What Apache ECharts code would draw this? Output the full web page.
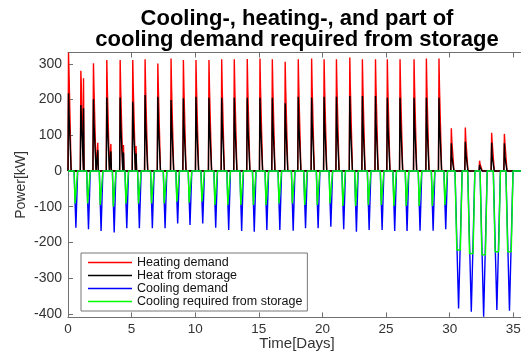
<!DOCTYPE html>
<html><head><meta charset="utf-8">
<script src="https://cdn.jsdelivr.net/npm/echarts@6/dist/echarts.min.js"></script>
<style>html,body{margin:0;padding:0;background:#fff}#c{width:521px;height:352px}</style>
</head><body><div id="c"></div>
<script>
// ---- data (time in days, power in kW) ----
const seriesNames = ['Heating demand', 'Heat from storage', 'Cooling demand', 'Cooling required from storage'];
const xTicks = [0, 5, 10, 15, 20, 25, 30, 35];
const yTicks = [-400, -300, -200, -100, 0, 100, 200, 300];

// daily heating peak (red) and heat from storage (black)
const heatT = [0.04, 1.01, 2.00, 3.05, 4.10, 5.09, 6.06, 7.06, 8.10, 9.07, 10.06, 11.08, 12.08, 13.07, 14.09, 15.09, 16.06, 17.07, 18.10, 19.15, 20.13, 21.10, 22.15, 23.14, 24.17, 25.10, 26.10, 27.20, 28.17, 29.16, 30.13, 31.23, 32.35, 33.30, 34.30];
const heatPeak = [331, 281, 302, 311, 311, 311, 313, 301, 315, 311, 311, 311, 313, 313, 314, 315, 313, 306, 313, 315, 313, 313, 318, 313, 313, 313, 313, 313, 315, 315, 120, 122, 29, 107, 104];
const heatShoulder = [273, 236, 232, 232, 232, 232, 232, 232, 232, 232, 232, 232, 232, 232, 232, 232, 232, 230, 232, 232, 232, 232, 235, 232, 232, 232, 232, 232, 232, 232, 85, 88, 20, 82, 80];
const storePeak = [218, 185, 201, 206, 206, 194, 213, 208, 199, 204, 208, 205, 205, 205, 205, 205, 205, 190, 208, 206, 208, 208, 210, 210, 210, 205, 205, 205, 205, 205, 78, 82, 17, 79, 78];
const storeShoulder = [160, 150, 134, 134, 134, 134, 134, 134, 134, 134, 134, 134, 134, 134, 134, 134, 134, 134, 134, 134, 134, 134, 134, 134, 134, 134, 134, 134, 134, 134, 40, 50, 10, 40, 40];
// secondary (smaller) heating spikes on days 1-5
const heat2Day = [1, 2, 3, 4, 5];
const heat2T = [1.22, 2.34, 3.37, 4.36, 5.35];
const heat2Peak = [260, 79, 76, 73, 70];
const store2Peak = [176, 59, 55, 52, 50];

// daily cooling trough (blue) and cooling required from storage (green)
const coolT = [0.62, 1.61, 2.60, 3.63, 4.62, 5.61, 6.63, 7.63, 8.62, 9.59, 10.59, 11.61, 12.63, 13.65, 14.64, 15.63, 16.65, 17.70, 18.67, 19.66, 20.66, 21.67, 22.67, 23.67, 24.69, 25.68, 26.65, 27.67, 28.70, 29.69, 30.70, 31.70, 32.67, 33.71, 34.70];
const coolPeak = [-159, -163, -168, -172, -160, -160, -160, -160, -147, -151, -147, -159, -165, -168, -170, -165, -165, -167, -160, -160, -156, -163, -170, -165, -165, -168, -168, -167, -167, -163, -385, -394, -408, -389, -391];
const coolStore = [-91, -91, -95, -100, -91, -91, -91, -91, -86, -89, -86, -95, -95, -95, -95, -95, -91, -91, -95, -95, -91, -98, -98, -95, -95, -98, -98, -98, -98, -95, -221, -231, -235, -226, -226];

// ---- build the line tables ----
const H = 1 / 24, XMAX = 36;
const red = [[0, 0]], black = [[0, 0]], blue = [[0, 0]], green = [[0, 0]];
for (let d = 0; d < heatT.length; d++) {
  const t = heatT[d];
  red.push([Math.max(0, t - H), 0], [t, heatPeak[d]], [t + H, heatShoulder[d]], [t + 4 * H, heatShoulder[d]], [t + 5 * H, 0]);
  black.push([Math.max(0, t - H), 0], [t, storePeak[d]], [t + H, storeShoulder[d]], [t + 4 * H, storeShoulder[d]], [t + 5 * H, 0]);
  const k = heat2Day.indexOf(d);
  if (k >= 0) {
    const s = heat2T[k];
    red.push([s - H, 0], [s, heat2Peak[k]], [s + H, 0]);
    black.push([s - H, 0], [s, store2Peak[k]], [s + H, 0]);
  }
}
for (let d = 0; d < coolT.length; d++) {
  const t = coolT[d], w = d >= 30 ? 0.28 : 0.14;
  blue.push([t - w, 0], [t, coolPeak[d]], [t + w, 0]);
  green.push([t - w, 0], [t - w / 2, coolStore[d]], [t + w / 2, coolStore[d]], [t + w, 0]);
}
[red, black, blue, green].forEach(a => a.push([XMAX, 0]));

const axisColor = '#707070';
const font = 'Liberation Sans, Arial, sans-serif';
const mk = (name, data, color) => ({
  name, type: 'line', data, symbol: 'none', showSymbol: false, animation: false,
  lineStyle: { color, width: 1.4 }, itemStyle: { color }, clip: true
});

const chart = echarts.init(document.getElementById('c'), null, { renderer: 'canvas' });
chart.setOption({
  animation: false,
  backgroundColor: '#fff',
  textStyle: { fontFamily: font },
  title: {
    text: 'Cooling-, heating-, and part of\ncooling demand required from storage',
    left: 297, top: 8, textAlign: 'center', padding: 0,
    textStyle: { fontSize: 22, fontWeight: 'bold', color: '#000', lineHeight: 21, fontFamily: font }
  },
  grid: { left: 68, right: -5, top: 52.5, bottom: 34.6, outerBoundsMode: 'none', containLabel: false },
  legend: {
    orient: 'vertical', left: 81, top: 253,
    padding: [3, 5, 3, 7], itemGap: 0, itemWidth: 44, itemHeight: 1.5, icon: 'rect',
    borderColor: '#777', borderWidth: 1, backgroundColor: '#fff', borderRadius: 0,
    textStyle: { fontSize: 12.5, color: '#111', lineHeight: 12, fontFamily: font },
    data: seriesNames
  },
  xAxis: [{
    type: 'value', min: 0, max: XMAX, minInterval: 5, maxInterval: 5, position: 'bottom',
    axisLine: { show: true, onZero: false, lineStyle: { color: axisColor } },
    axisTick: { show: true, inside: true, length: 5, lineStyle: { color: axisColor } },
    axisLabel: { formatter: v => xTicks.includes(v) ? String(v) : '', color: '#333', fontSize: 13.5, margin: 5 },
    splitLine: { show: false },
    name: 'Time[Days]', nameLocation: 'middle', nameGap: 19, nameMoveOverlap: false,
    nameTextStyle: { fontSize: 15, color: '#333' }
  }, {
    type: 'value', min: 0, max: XMAX, minInterval: 5, maxInterval: 5, position: 'top',
    axisLine: { show: true, onZero: false, lineStyle: { color: axisColor } },
    axisTick: { show: true, inside: true, length: 5, lineStyle: { color: axisColor } },
    axisLabel: { show: false }, splitLine: { show: false }
  }],
  yAxis: {
    type: 'value', min: -410, max: 332, minInterval: 100, maxInterval: 100,
    axisLine: { show: true, lineStyle: { color: axisColor } },
    axisTick: { show: true, inside: true, length: 5, lineStyle: { color: axisColor } },
    axisLabel: { formatter: v => yTicks.includes(v) ? String(v) : '', color: '#333', fontSize: 14, margin: 6 },
    splitLine: { show: false },
    name: 'Power[kW]', nameLocation: 'middle', nameGap: 40, nameMoveOverlap: false,
    nameTextStyle: { fontSize: 14, color: '#333' }
  },
  series: [
    mk(seriesNames[0], red, '#ff0000'),
    mk(seriesNames[1], black, '#000000'),
    mk(seriesNames[2], blue, '#0000ff'),
    mk(seriesNames[3], green, '#00ff00')
  ]
});
</script></body></html>
